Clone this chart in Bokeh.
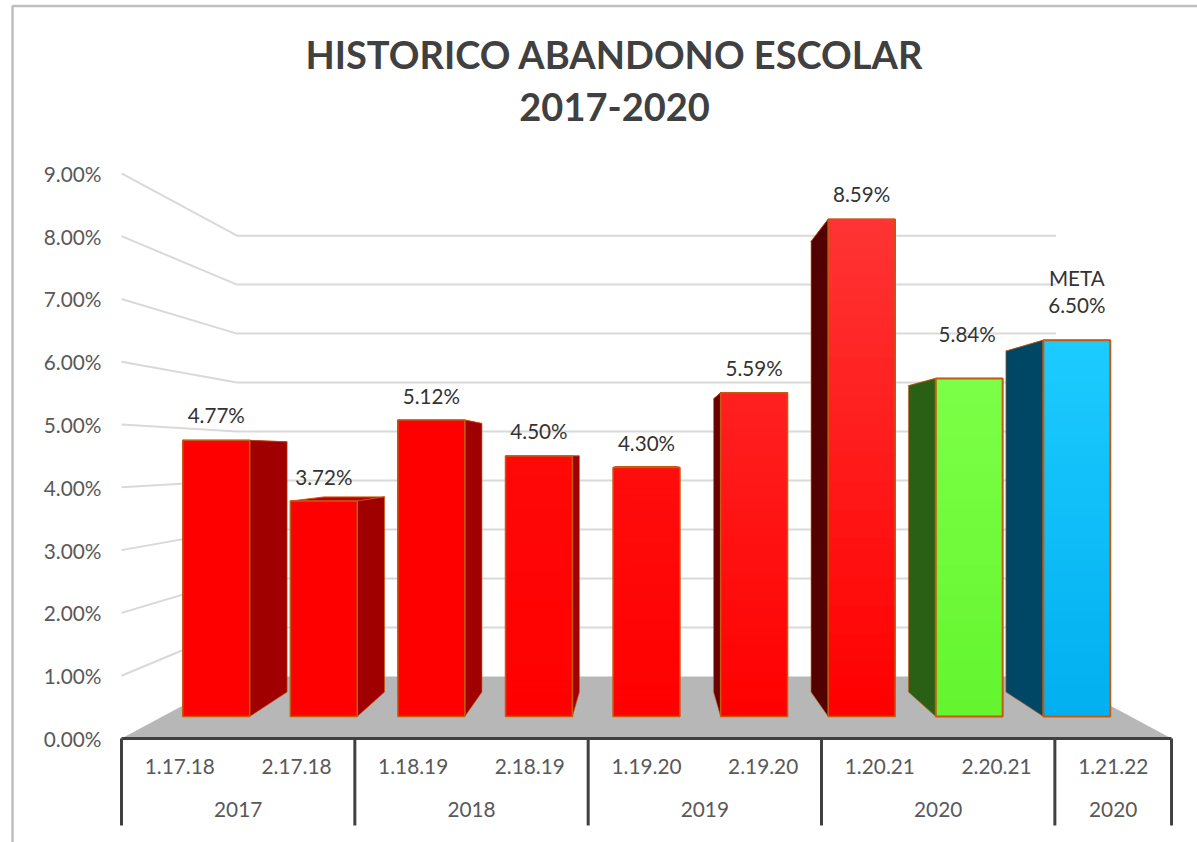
from bokeh.plotting import figure
from bokeh.embed import file_html
from bokeh.resources import INLINE
from bokeh.core.properties import value
from bokeh.models import FixedTicker, LinearAxis, Range1d

# ---- data ----
categories = ["1.17.18", "2.17.18", "1.18.19", "2.18.19", "1.19.20", "2.19.20", "1.20.21", "2.20.21", "1.21.22"]
rates = [4.77, 3.72, 5.12, 4.50, 4.30, 5.59, 8.59, 5.84, 6.50]
group_names = ["2017", "2018", "2019", "2020", "2020"]
group_sizes = [2, 2, 2, 2, 1]
y_ticks = [0, 1, 2, 3, 4, 5, 6, 7, 8, 9]
y_tick_labels = ["0.00%", "1.00%", "2.00%", "3.00%", "4.00%", "5.00%", "6.00%", "7.00%", "8.00%", "9.00%"]
title_lines = ["HISTORICO ABANDONO ESCOLAR", "2017-2020"]

# ---- styles ----
front_bottom = ["#FF0000"] * 7 + ["#64F52F", "#02AFF0"]
front_top = ["#FF0000", "#FF0000", "#FF0000", "#FF0808", "#FF0C0C", "#FF2020", "#FF3333", "#7CFF47", "#1CCBFF"]
side_col = ["#A00000", "#A00000", "#A00000", "#A00000", "#800000", "#680000", "#520000", "#2A6015", "#004766"]
top_col = "#C00000"
edge = "#C55A11"
edge_w = [1.5] * 7 + [2, 2]
label_dy = [-25, -24, -24, -25, -25, -25, -25, -44, -35]
label_dx = [0, 0, 0, 0, 0, 0, 0, -2, 0]

# ---- perspective of the 3-D box ----
VX, VY = 4.5, 4.49
S_BACK, S_FRONT, S_REAR = 0.78, 0.922, 0.835
HALF = 0.311


def px(x, s):
    return VX + (x - VX) * s


def py(v, s):
    return VY + (v - VY) * s


def mix(c1, c2, t):
    a = [int(c1[i:i + 2], 16) for i in (1, 3, 5)]
    b = [int(c2[i:i + 2], 16) for i in (1, 3, 5)]
    return "#%02X%02X%02X" % tuple(round(p + (q - p) * t) for p, q in zip(a, b))


n = len(rates)
X0, X1 = -1.0371, 9.2226
Y0, Y1 = -1.656, 11.752
p = figure(width=1197, height=842, output_backend="svg", toolbar_location=None,
           x_range=Range1d(X0, X1), y_range=Range1d(Y0, Y1),
           min_border_left=0, min_border_right=0, min_border_top=0, min_border_bottom=0,
           x_axis_type=None, y_axis_type=None, outline_line_color=None,
           background_fill_color="white", border_fill_color="white")
p.grid.visible = False

# outer frame of the picture
p.line([-0.934, -0.934, X1], [Y0, 11.664, 11.664], line_color="#BFBFBF", line_width=2.5)

# floor
p.patch([0, n, px(n, S_BACK), px(0, S_BACK)], [0, 0, py(0, S_BACK), py(0, S_BACK)],
        fill_color="#B7B7B7", line_color=None)

# wall grid lines
grid = [t for t in y_ticks if t > 0]
p.multi_line([[0, px(0, S_BACK), px(n, S_BACK)] for _ in grid],
             [[t, py(t, S_BACK), py(t, S_BACK)] for t in grid],
             line_color="#D9D9D9", line_width=2)

# bars
for i, v in enumerate(rates):
    c = i + 0.5
    l, r = c - HALF, c + HALF
    # top face
    p.patch([px(l, S_FRONT), px(r, S_FRONT), px(r, S_REAR), px(l, S_REAR)],
            [py(v, S_FRONT), py(v, S_FRONT), py(v, S_REAR), py(v, S_REAR)],
            fill_color=top_col, line_color=edge, line_width=1)
    # side face (the side turned to the vanishing point)
    sx = r if c < VX else l
    if abs(c - VX) > 0.01:
        p.patch([px(sx, S_FRONT), px(sx, S_REAR), px(sx, S_REAR), px(sx, S_FRONT)],
                [py(0, S_FRONT), py(0, S_REAR), py(v, S_REAR), py(v, S_FRONT)],
                fill_color=side_col[i], line_color=edge, line_width=0.6)
    # front face with vertical gradient, painted bottom-up
    steps = 36
    bottoms = [py(v * k / steps, S_FRONT) for k in range(steps)]
    p.quad(left=px(l, S_FRONT), right=px(r, S_FRONT), bottom=bottoms, top=py(v, S_FRONT),
           fill_color=[mix(front_bottom[i], front_top[i], k / (steps - 1)) for k in range(steps)],
           line_color=None)
    p.quad(left=px(l, S_FRONT), right=px(r, S_FRONT), bottom=py(0, S_FRONT), top=py(v, S_FRONT),
           fill_color=None, line_color=edge, line_width=edge_w[i])

# data labels
labels = ["%.2f%%" % v for v in rates]
p.text(x=[px(i + 0.5, S_FRONT) for i in range(n)], y=[py(v, S_FRONT) for v in rates], text=labels,
       x_offset=label_dx, y_offset=label_dy, text_align="center", text_baseline="middle",
       text_font=value("Lato"), text_font_size="20.6px", text_color="#333333")
p.text(x=[px(n - 0.5, S_FRONT)], y=[py(rates[-1], S_FRONT)], text=["META"],
       y_offset=[-62], text_align="center", text_baseline="middle",
       text_font=value("Lato"), text_font_size="20.6px", text_color="#333333")

# value axis
yax = LinearAxis(ticker=FixedTicker(ticks=y_ticks), fixed_location=0,
                 major_label_overrides=dict(zip(y_ticks, y_tick_labels)),
                 axis_line_color=None, major_tick_line_color=None, minor_tick_line_color=None,
                 major_label_standoff=14, major_label_text_font="Lato",
                 major_label_text_font_size="20.8px", major_label_text_color="#595959")
p.add_layout(yax, "left")

# category axis
bounds = [0]
for g in group_sizes:
    bounds.append(bounds[-1] + g)
slot_ticks = [i + 0.5 for i in range(n)]
xax = LinearAxis(ticker=FixedTicker(ticks=slot_ticks), fixed_location=0, bounds=(0, n),
                 major_label_overrides=dict(zip(slot_ticks, categories)),
                 axis_line_color="#404040", axis_line_width=3,
                 major_tick_line_color=None, minor_tick_line_color=None,
                 major_tick_in=0, major_tick_out=0, minor_tick_in=0, minor_tick_out=0,
                 major_label_standoff=20, major_label_text_font="Lato",
                 major_label_text_font_size="20.8px", major_label_text_color="#595959")
p.add_layout(xax, "below")

group_mid = [(bounds[k] + bounds[k + 1]) / 2 for k in range(len(group_sizes))]
gax = LinearAxis(ticker=FixedTicker(ticks=group_mid), fixed_location=0,
                 major_label_overrides=dict(zip(group_mid, group_names)),
                 axis_line_color=None, major_tick_line_color=None, minor_tick_line_color=None,
                 major_tick_in=0, major_tick_out=0, minor_tick_in=0, minor_tick_out=0,
                 major_label_standoff=63, major_label_text_font="Lato",
                 major_label_text_font_size="20.8px", major_label_text_color="#595959")
p.add_layout(gax, "below")

# group separators
p.segment(x0=bounds, y0=[0] * len(bounds), x1=bounds, y1=[-1.385] * len(bounds),
          line_color="#404040", line_width=3)

# title
p.text(x=[4.226, 4.226], y=[10.90, 10.06], text=title_lines, text_align="center", text_baseline="middle",
       text_font=value("Lato"), text_font_style="bold", text_font_size="38px", text_color="#404040")

open("out.html", "w").write(file_html(p, INLINE))
